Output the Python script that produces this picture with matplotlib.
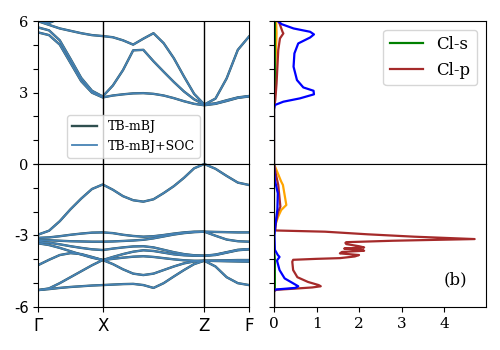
import numpy as np
import matplotlib
matplotlib.use("Agg")
import matplotlib.pyplot as plt

plt.rcParams["axes.unicode_minus"] = False

# high-symmetry points along the k-path
k_labels = ["Γ", "X", "Z", "F"]
k_sym = [0.0, 0.644, 1.66, 2.107]

# band energies (eV) read at the k grid below
nan = np.nan
c_a = [5.53, 5.42, 5.02, 4.25, 3.48, 3.00, 2.80,
       2.88, 2.93, 2.97, 2.98, 2.95, 2.88, 2.77, 2.64, 2.53, 2.47,
       2.53, 2.65, 2.78, 2.84]
c_b = [5.74, 5.62, 5.20, 4.42, 3.62, 3.08, 2.84,
       3.30, 3.95, 4.78, 4.80, 4.32, 3.88, 3.45, 3.05, 2.72, 2.50,
       2.55, 2.68, 2.80, 2.86]
c_c = [6.00, 5.85, 5.70, 5.60, 5.50, 5.42, 5.38,
       5.33, 5.20, 5.02, 5.27, 5.50, 5.08, 4.45, 3.68, 2.95, 2.50,
       2.75, 3.60, 4.80, 5.36]
c_d = [6.02, 5.93, 6.12, 6.45, 6.90, nan, nan,
       nan, nan, nan, nan, nan, nan, nan, nan, nan, nan,
       nan, nan, nan, nan]
v_top = [-2.96, -2.80, -2.40, -1.90, -1.45, -1.05, -0.86,
         -1.08, -1.35, -1.52, -1.58, -1.48, -1.22, -0.93, -0.58, -0.18, 0.0,
         -0.20, -0.50, -0.78, -0.88]
v_1 = [-3.10, -3.08, -3.03, -2.97, -2.92, -2.88, -2.87,
       -2.90, -2.97, -3.02, -3.05, -3.03, -2.98, -2.92, -2.87, -2.84, -2.84,
       -2.85, -2.86, -2.87, -2.87]
v_2 = [-3.19, -3.20, -3.22, -3.24, -3.25, -3.26, -3.26,
       -3.25, -3.23, -3.21, -3.18, -3.12, -3.04, -2.96, -2.90, -2.86, -2.84,
       -3.01, -3.17, -3.24, -3.26]
v_3 = [-3.26, -3.30, -3.37, -3.45, -3.52, -3.58, -3.61,
       -3.55, -3.50, -3.46, -3.45, -3.50, -3.60, -3.70, -3.78, -3.83, -3.85,
       -3.80, -3.70, -3.60, -3.57]
v_4 = [-3.33, -3.40, -3.52, -3.66, -3.80, -3.93, -4.03,
       -3.90, -3.78, -3.68, -3.62, -3.65, -3.72, -3.79, -3.83, -3.85, -3.85,
       -3.82, -3.72, -3.62, -3.58]
v_5 = [-4.24, -4.02, -3.82, -3.74, -3.78, -3.90, -4.03,
       -4.20, -4.42, -4.60, -4.66, -4.60, -4.45, -4.30, -4.17, -4.09, -4.06,
       -4.05, -4.04, -4.03, -4.03]
v_6 = [-5.29, -5.22, -5.00, -4.75, -4.50, -4.25, -4.03,
       -3.98, -3.93, -3.89, -3.87, -3.90, -3.95, -4.00, -4.04, -4.06, -4.06,
       -4.07, -4.08, -4.09, -4.10]
v_7 = [-5.29, -5.25, -5.20, -5.16, -5.13, -5.10, -5.08,
       -5.06, -5.04, -5.03, -5.08, -5.20, -5.00, -4.72, -4.45, -4.20, -4.06,
       -4.30, -4.75, -5.00, -5.08]
bands = [c_a, c_b, c_c, c_d, v_top, v_1, v_2, v_3, v_4, v_5, v_6, v_7]

# projected DOS: energies and values
cls_e = [6.0, 3.0, 2.5, -3.6, -4.0, -5.2, -5.3, -6.0]
cls_dos = [0.02, 0.02, 0.0, 0.0, 0.02, 0.02, 0.0, 0.0]

clp_e = [6.0, 5.91, 5.56, 5.49, 5.28, 4.79, 4.09, 3.39, 2.69, 2.48, 2.3,
         0.0, -0.32, -0.88, -1.79, -2.0, -2.4, -2.75, -2.79, -2.84, -2.95,
         -3.05, -3.15, -3.19, -3.22, -3.28, -3.31, -3.36, -3.45, -3.50,
         -3.55, -3.60, -3.64, -3.69, -3.75, -3.82, -3.88, -3.95, -3.98,
         -4.02, -4.10, -4.45, -4.75, -4.95, -5.08, -5.13, -5.18, -5.24,
         -5.28, -5.35, -6.0]
clp_dos = [0.10, 0.13, 0.20, 0.22, 0.14, 0.10, 0.08, 0.06, 0.03, 0.01, 0.0,
           0.0, 0.03, 0.10, 0.15, 0.10, 0.05, 0.03, 0.05, 1.2, 2.2,
           3.3, 4.72, 3.6, 2.8, 1.7, 1.68, 1.7, 2.0, 2.12,
           1.65, 2.05, 2.12, 1.6, 1.55, 2.0, 1.9, 1.55, 1.0,
           0.45, 0.43, 0.45, 0.55, 0.8, 1.05, 1.1, 0.9, 0.4,
           0.05, 0.0, 0.0]

blue_e = [6.0, 5.88, 5.70, 5.56, 5.45, 5.32, 5.07, 4.65, 4.09, 3.53, 3.22,
          3.08, 2.93, 2.76, 2.62, 2.48, 2.3, 0.0, -0.67, -1.23, -1.9, -2.6,
          -3.0, -3.6, -3.82, -3.9, -4.05, -4.45, -4.8, -5.13, -5.2, -5.27,
          -5.35, -6.0]
blue_dos = [0.10, 0.18, 0.46, 0.85, 0.94, 0.85, 0.57, 0.48, 0.46, 0.54, 0.69,
            0.93, 0.94, 0.61, 0.22, 0.02, 0.0, 0.0, 0.02, 0.09, 0.08, 0.03,
            0.01, 0.02, 0.09, 0.13, 0.07, 0.13, 0.25, 0.57, 0.50, 0.02,
            0.0, 0.0]

orange_e = [6.0, 5.5, 4.5, 3.0, 2.5, 0.0, -0.74, -0.88, -1.72, -1.93, -2.2,
            -2.6, -2.8, -6.0]
orange_dos = [0.05, 0.06, 0.04, 0.03, 0.0, 0.0, 0.17, 0.21, 0.29, 0.17, 0.10,
              0.02, 0.0, 0.0]

# k grid the bands were read on
k = np.concatenate([np.linspace(k_sym[0], k_sym[1], 7),
                    np.linspace(k_sym[1], k_sym[2], 11)[1:],
                    np.linspace(k_sym[2], k_sym[3], 5)[1:]])

fig = plt.figure(figsize=(5, 3.5), dpi=100)
ax_bu = fig.add_axes([0.0766, 0.5314, 0.4214, 0.4077])
ax_bl = fig.add_axes([0.0766, 0.1229, 0.4214, 0.4085])
ax_du = fig.add_axes([0.548, 0.5314, 0.4234, 0.4077])
ax_dl = fig.add_axes([0.548, 0.1229, 0.4234, 0.4085])

for ax in (ax_bu, ax_bl):
    for i, b in enumerate(bands):
        ax.plot(k, b, color="darkslategray", lw=1.7,
                label="TB-mBJ" if i == 0 else None)
    for i, b in enumerate(bands):
        ax.plot(k, b, color="steelblue", lw=1.3,
                label="TB-mBJ+SOC" if i == 0 else None)
    for kx in k_sym[1:3]:
        ax.axvline(kx, color="black", lw=1)
    ax.set_xlim(k_sym[0], k_sym[-1])

ax_bu.set_ylim(0, 6)
ax_bu.set_yticks(range(0, 7))
ax_bu.set_yticklabels(["0", "", "", "3", "", "", "6"],
                      family="DejaVu Serif", fontsize=10.5)
ax_bu.set_xticks([])
ax_bu.legend(loc="lower center", bbox_to_anchor=(0.452, 0.045),
             borderaxespad=0, prop={"family": "DejaVu Serif", "size": 9})

ax_bl.set_ylim(-6, 0)
ax_bl.set_yticks(range(-6, 1))
ax_bl.set_yticklabels(["-6", "", "", "-3", "", "", ""], fontsize=10.5)
ax_bl.set_xticks(k_sym)
ax_bl.set_xticklabels(k_labels, fontsize=12)

for ax in (ax_du, ax_dl):
    ax.plot(orange_dos, orange_e, color="orange", lw=1.6)
    ax.plot(cls_dos, cls_e, color="green", lw=1.6, label="Cl-s")
    ax.plot(clp_dos, clp_e, color="brown", lw=1.6, label="Cl-p")
    ax.plot(blue_dos, blue_e, color="blue", lw=1.6)
    ax.set_xlim(0, 4.98)

ax_du.set_ylim(0, 6)
ax_du.set_yticks(range(0, 7))
ax_du.set_yticklabels([])
ax_du.set_xticks([])
ax_du.legend(loc="upper right", prop={"family": "DejaVu Serif", "size": 12})

ax_dl.set_ylim(-6, 0)
ax_dl.set_yticks(range(-6, 1))
ax_dl.set_yticklabels([])
ax_dl.set_xticks(range(0, 5))
ax_dl.set_xticklabels([str(i) for i in range(0, 5)],
                      family="DejaVu Serif", fontsize=11)
ax_dl.text(0.855, 0.19, "(b)", transform=ax_dl.transAxes, ha="center",
           va="center", family="DejaVu Serif", fontsize=12)

fig.savefig("out.png", dpi=100)
